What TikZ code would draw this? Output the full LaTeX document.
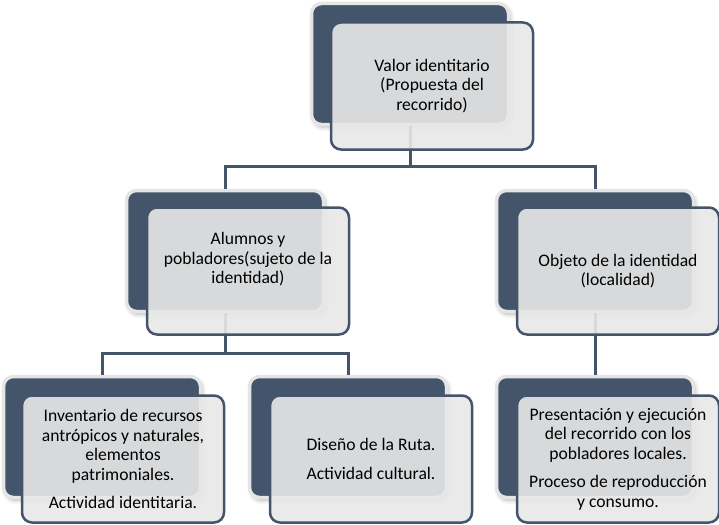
\documentclass[tikz,border=0pt]{standalone}
\usepackage{fontspec}
\setmainfont{Carlito}
\usetikzlibrary{shadows.blur}
\definecolor{navy}{RGB}{68,84,106}
\definecolor{panel}{RGB}{232,232,232}
\tikzset{
	back/.style={
			draw=white!90!black, line width=3.5pt, fill=navy, rounded corners=10pt,
			minimum width=197pt, minimum height=121pt,
			blur shadow={shadow xshift=2pt, shadow yshift=-3pt, shadow blur radius=4pt, shadow opacity=30}
		},
	front/.style={
			draw=navy, line width=2.5pt, fill=panel, fill opacity=0.9, text opacity=1,
			rounded corners=10pt, minimum width=202pt, minimum height=127pt,
			align=center, font=\fontsize{17.6}{19.5}\selectfont
		},
	conn/.style={draw=navy, line width=3pt}
}

\begin{document}
\begin{tikzpicture}[x=1pt,y=-1pt]
			\useasboundingbox (0,0) rectangle (719,524);
			\node[back] (valorB) at (410,64) {};
			\node[back] (alumnosB) at (225,251) {};
			\node[back] (objetoB) at (595,251) {};
			\node[back] (inventarioB) at (102,437) {};
			\node[back] (disenoB) at (348,437) {};
			\node[back] (presentacionB) at (595,437) {};
			\draw[conn] (valorB.south) -- ++(0,40) -| (alumnosB.north);
			\draw[conn] (valorB.south) -- ++(0,40) -| (objetoB.north);
			\draw[conn] (alumnosB.south) -- ++(0,40) -| (inventarioB.north);
			\draw[conn] (alumnosB.south) -- ++(0,40) -| (disenoB.north);
			\draw[conn] (objetoB.south) -- (presentacionB.north);
			\node[front] (valor) at (432,86) {Valor identitario\\(Propuesta del\\recorrido)};
			\node[front] (alumnos) at (248,271) {Alumnos y\\pobladores(sujeto de la\\identidad)\\[6pt]};
			\node[front] (objeto) at (618,271) {Objeto de la identidad\\(localidad)};
			\node[front] (inventario) at (123,459) {Inventario de recursos\\antrópicos y naturales,\\elementos\\patrimoniales.\\[9pt]Actividad identitaria.};
			\node[front] (diseno) at (371,459) {Diseño de la Ruta.\\[9pt]Actividad cultural.};
			\node[front] (presentacion) at (618,459) {Presentación y ejecución\\del recorrido con los\\pobladores locales.\\[9pt]Proceso de reproducción\\y consumo.};
		\end{tikzpicture}
\end{document}
